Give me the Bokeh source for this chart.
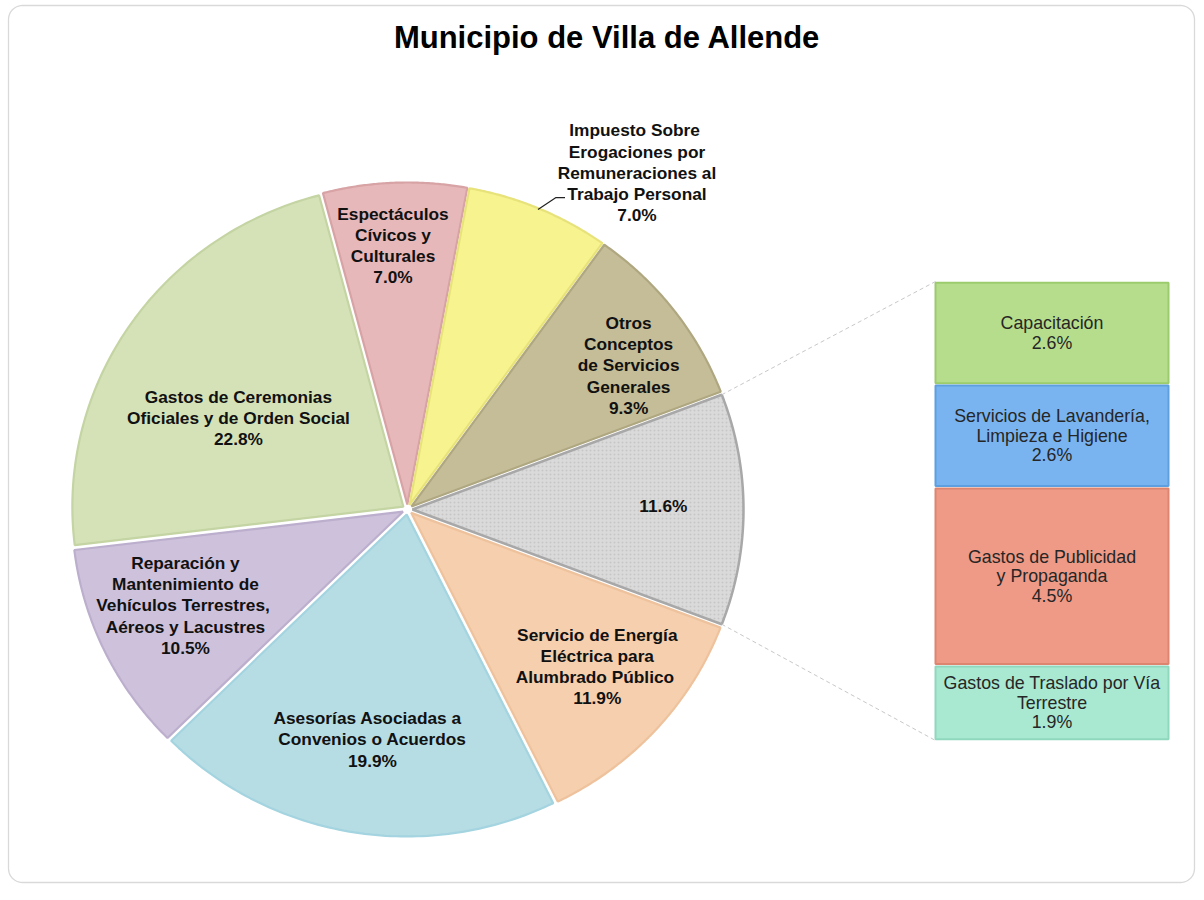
import numpy as np
from bokeh.plotting import figure
from bokeh.models import Range1d, ColumnDataSource
from bokeh.core.properties import value
from bokeh.embed import file_html
from bokeh.resources import INLINE

# ---------------- data ----------------
title = "Municipio de  Villa de Allende"

pie_names = [
    "",
    "Servicio de Energía\nEléctrica para\nAlumbrado  Público",
    "Asesorías  Asociadas  a\nConvenios o Acuerdos",
    "Reparación y\nMantenimiento de\nVehículos  Terrestres,\nAéreos y Lacustres",
    "Gastos de Ceremonias\nOficiales y de Orden Social",
    "Espectáculos\nCívicos y\nCulturales",
    "Impuesto  Sobre\nErogaciones por\nRemuneraciones al\nTrabajo Personal",
    "Otros\nConceptos\nde Servicios\nGenerales",
]
pie_values = [11.6, 11.9, 19.9, 10.5, 22.8, 7.0, 7.0, 9.3]

bar_names = [
    "Capacitación",
    "Servicios de Lavandería,\nLimpieza e Higiene",
    "Gastos de Publicidad\ny Propaganda",
    "Gastos de Traslado por Vía\nTerrestre",
]
bar_values = [2.6, 2.6, 4.5, 1.9]

# ---------------- styles / layout ----------------
pie_fill = ["#dadada", "#f5cfae", "#b6dce4", "#cdc1db", "#d5e2b8",
            "#e6b8ba", "#f7f38e", "#c5bd98"]
pie_line = ["#a8a8a8", "#eec29c", "#a3d4e0", "#bcaecd", "#c4d4a2",
            "#d8a3a5", "#e8e27a", "#afa780"]
# label placement: radius fraction of the ellipse and angle shift (deg)
lab_rf = [0.773, 0.753, 0.722, 0.734, 0.584, 0.821, 1.255, 0.804]
lab_dt = [0.9, 1.9, 1.1, -1.8, 5.2, 0.9, -10.5, -3.8]

bar_fill = ["#b6dd8c", "#79b4f1", "#ee9a86", "#a9e8d1"]
bar_line = ["#9ccb6e", "#5e9fe0", "#de8570", "#8fd8bd"]

FONT = value("Liberation Sans")
W, H = 1196, 884


def X(px):
    return px


def Y(py):
    return H - py


CX, CY = X(407), Y(509)
RX, RY = 331, 322
EXPLODE = 5

p = figure(width=W, height=H, x_range=Range1d(0, W), y_range=Range1d(0, H),
           output_backend="svg", toolbar_location=None, min_border=0,
           x_axis_location=None, y_axis_location=None,
           outline_line_color=None, background_fill_color="white",
           border_fill_color="white")
p.grid.visible = False

# rounded frame around the chart area
fl, fr, ft, fb, rr = X(8), X(1194), Y(5), Y(882), 14
corners = [(fr - rr, ft - rr, 0, 90), (fl + rr, ft - rr, 90, 180),
           (fl + rr, fb + rr, 180, 270), (fr - rr, fb + rr, 270, 360)]
bx, by = [], []
for ccx, ccy, t0, t1 in corners:
    tt = np.radians(np.linspace(t0, t1, 12))
    bx += list(ccx + rr * np.cos(tt))
    by += list(ccy + rr * np.sin(tt))
bx.append(bx[0])
by.append(by[0])
p.line(bx, by, line_color="#d9d9d9", line_width=1.3)

# ---------------- pie (slices clockwise, first slice centred on 0 deg) ----------------
total = sum(pie_values)
start_cw = 360.0 * pie_values[0] / total / 2.0
xs, ys, mids = [], [], []
a = start_cw
for v in pie_values:
    span = 360.0 * v / total
    a0, a1 = a, a - span
    mid = (a0 + a1) / 2.0
    ox = EXPLODE * np.cos(np.radians(mid))
    oy = EXPLODE * np.sin(np.radians(mid))
    t = np.radians(np.linspace(a0, a1, 80))
    px = np.concatenate([[CX + ox], CX + ox + RX * np.cos(t), [CX + ox]])
    py = np.concatenate([[CY + oy], CY + oy + RY * np.sin(t), [CY + oy]])
    xs.append(list(px))
    ys.append(list(py))
    mids.append(mid)
    a = a1

src = ColumnDataSource(dict(xs=xs[1:], ys=ys[1:], fill=pie_fill[1:], line=pie_line[1:]))
p.patches("xs", "ys", source=src, fill_color="fill", line_color="line", line_width=2.2)
# the "others" slice, dotted
p.patches([xs[0]], [ys[0]], fill_color=pie_fill[0], line_color=pie_line[0], line_width=2.5,
          hatch_pattern=".", hatch_color="#c6c6c6", hatch_scale=4, hatch_weight=1.2)

# slice labels
lx, ly, lt = [], [], []
for i, (name, v) in enumerate(zip(pie_names, pie_values)):
    ang = np.radians(mids[i] + lab_dt[i])
    lx.append(CX + lab_rf[i] * RX * np.cos(ang))
    ly.append(CY + lab_rf[i] * RY * np.sin(ang))
    lt.append((name + "\n" if name else "") + f"{v:.1f}%")
p.text(x=lx, y=ly, text=lt, text_font=FONT, text_font_style="bold",
       text_font_size="17.3px", text_color="#111111", text_align="center",
       text_baseline="middle", text_line_height=1.055)

# leader line for the outside label (slice 6)
m6 = np.radians(mids[6])
x0 = CX + EXPLODE * np.cos(m6) + RX * np.cos(m6)
y0 = CY + EXPLODE * np.sin(m6) + RY * np.sin(m6)
p.line([x0 - 1, x0 + 17, x0 + 26], [y0 - 1, y0 + 11, y0 + 11], line_color="#222222", line_width=1.2)

# ---------------- bar of the "others" slice ----------------
bar_total = sum(bar_values)
BAR_L, BAR_R = X(935), X(1168)
D0, D1 = Y(740), Y(281)           # pixel extents of the bar
k = (D1 - D0) / bar_total
p.extra_y_ranges = {"bar": Range1d(-D0 / k, (H - D0) / k)}
GAP = 1.2 / k
tops = list(np.cumsum(bar_values[::-1]))[::-1]
bottoms = [t - v for t, v in zip(tops, bar_values)]
bsrc = ColumnDataSource(dict(top=[t - GAP for t in tops], bottom=[b + GAP for b in bottoms],
                             fill=bar_fill, line=bar_line,
                             mid=[(t + b) / 2 for t, b in zip(tops, bottoms)],
                             txt=[f"{n}\n{v:.1f}%" for n, v in zip(bar_names, bar_values)]))
p.quad(left=BAR_L, right=BAR_R, top="top", bottom="bottom", source=bsrc,
       fill_color="fill", line_color="line", line_width=2, y_range_name="bar")
p.text(x=(BAR_L + BAR_R) / 2, y="mid", text="txt", source=bsrc, y_range_name="bar",
       text_font=FONT, text_font_size="17.8px", text_color="#262626",
       text_align="center", text_baseline="middle", text_line_height=0.98)

# connector lines
a_top = np.radians(start_cw)
cx_top = CX + EXPLODE + RX * np.cos(a_top)
cy_top = CY + RY * np.sin(a_top)
cy_bot = CY - RY * np.sin(a_top)
p.line([cx_top, BAR_L], [cy_top, D0 + k * bar_total], line_color="#c8c8c8", line_dash="4 3", line_width=1)
p.line([cx_top, BAR_L], [cy_bot, D0], line_color="#c8c8c8", line_dash="4 3", line_width=1)

# ---------------- title ----------------
p.text(x=[X(611)], y=[Y(37)], text=[title], text_font=FONT, text_font_style="bold",
       text_font_size="31px", text_color="#000000", text_align="center", text_baseline="middle")

open("out.html", "w").write(file_html(p, INLINE))
